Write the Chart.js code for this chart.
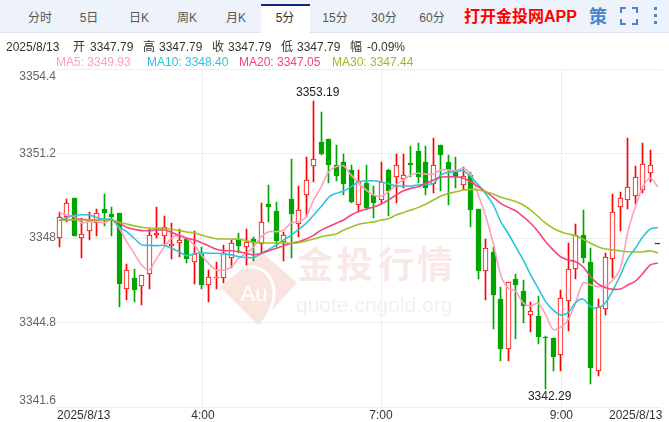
<!DOCTYPE html>
<html>
<head>
<meta charset="utf-8">
<title>K线</title>
<script src="https://cdn.jsdelivr.net/npm/chart.js@4/dist/chart.umd.min.js"></script>
<style>
  html, body { margin: 0; padding: 0; background: #fff; }
  body { width: 669px; height: 422px; position: relative; overflow: hidden;
         font-family: "Liberation Sans", "Noto Sans CJK SC", sans-serif; font-size: 12px; color: #333; }
  canvas { position: absolute; left: 0; top: 0; }
  #bar { position: absolute; left: 0; top: 0; width: 669px; height: 32px; background: #eef3fb; border-bottom: 1px solid #d9e3f1; }
  #active { position: absolute; left: 261px; top: 4px; width: 49px; height: 27px; background: #fff; border-top: 2px solid #0c2a84; border-bottom: 2px solid #fff; }
  .t { position: absolute; white-space: nowrap; line-height: 14px; }
  .tab { top: 11px; transform: translateX(-50%); color: #555; }
</style>
</head>
<body>
<canvas id="grafico" width="669" height="422"></canvas>
<div id="bar"></div>
<div id="active"></div>
<div class="t tab" style="left:40px">分时</div>
<div class="t tab" style="left:89px">5日</div>
<div class="t tab" style="left:139px">日K</div>
<div class="t tab" style="left:187px">周K</div>
<div class="t tab" style="left:236px">月K</div>
<div class="t tab" style="left:285px;color:#333">5分</div>
<div class="t tab" style="left:335px">15分</div>
<div class="t tab" style="left:384px">30分</div>
<div class="t tab" style="left:432px">60分</div>
<div class="t" style="left:464px;top:8px;color:#f00;font-weight:bold;font-size:16px;line-height:18px">打开金投网APP</div>
<div class="t" style="left:589px;top:7px;color:#4a84cc;font-weight:bold;font-size:18px;line-height:20px">策</div>
<svg style="position:absolute;left:620px;top:7px" width="18" height="18" fill="none" stroke="#4a84cc" stroke-width="2">
  <path d="M1 6V1H6M12 1H17V6M17 12V17H12M6 17H1V12"/>
</svg>
<svg style="position:absolute;left:653px;top:7px" width="6" height="18" fill="#4a84cc">
  <rect x="1" y="0" width="3" height="3"/><rect x="1" y="7" width="3" height="3"/><rect x="1" y="14" width="3" height="3"/>
</svg>

<div class="t" style="left:6px;top:40px">2025/8/13</div>
<div class="t" style="left:73px;top:40px">开</div><div class="t" style="left:90px;top:40px">3347.79</div>
<div class="t" style="left:143px;top:40px">高</div><div class="t" style="left:159px;top:40px">3347.79</div>
<div class="t" style="left:212px;top:40px">收</div><div class="t" style="left:228px;top:40px">3347.79</div>
<div class="t" style="left:281px;top:40px">低</div><div class="t" style="left:297px;top:40px">3347.79</div>
<div class="t" style="left:350px;top:40px">幅</div><div class="t" style="left:367px;top:40px">-0.09%</div>
<div class="t" style="left:56px;top:55px;color:#ff9fbb">MA5: 3349.93</div>
<div class="t" style="left:147px;top:55px;color:#2ec4dc">MA10: 3348.40</div>
<div class="t" style="left:239px;top:55px;color:#f2467c">MA20: 3347.05</div>
<div class="t" style="left:332px;top:55px;color:#9cba2a">MA30: 3347.44</div>

<script>
const opens = [3347.99,3348.78,3349.50,3347.99,3348.28,3348.56,3349.09,3348.91,3348.95,3346.06,3346.49,3346.19,3346.63,3348.13,3348.07,3347.70,3347.80,3347.96,3347.08,3347.38,3346.21,3346.49,3346.50,3347.23,3347.96,3347.67,3347.96,3347.76,3349.28,3349.02,3347.86,3349.48,3348.52,3349.62,3350.72,3351.64,3351.74,3350.75,3350.88,3350.58,3349.25,3350.07,3349.61,3349.43,3350.58,3350.30,3350.22,3350.84,3351.30,3350.88,3350.05,3351.52,3350.88,3350.58,3350.00,3350.39,3349.10,3346.76,3347.47,3345.69,3343.81,3346.44,3345.99,3345.07,3345.04,3344.25,3344.21,3343.56,3345.60,3346.82,3348.10,3347.08,3342.95,3345.30,3347.19,3349.16,3349.44,3349.58,3349.82,3350.45,3347.79];
const highs = [3349.00,3349.47,3349.50,3348.77,3348.97,3349.10,3349.67,3349.16,3348.95,3347.02,3346.82,3346.60,3348.33,3349.16,3348.83,3348.56,3348.33,3347.96,3348.27,3347.65,3346.79,3347.10,3347.74,3347.93,3348.20,3348.34,3348.05,3349.31,3350.01,3349.38,3348.24,3350.98,3349.97,3351.08,3353.19,3352.78,3351.74,3351.52,3351.17,3350.77,3350.58,3350.77,3349.98,3350.87,3350.60,3351.18,3351.18,3351.48,3351.59,3351.48,3351.78,3351.52,3351.14,3351.06,3350.68,3350.51,3349.10,3347.95,3347.67,3346.16,3346.35,3346.64,3346.41,3345.57,3345.82,3344.30,3344.21,3346.03,3347.80,3348.53,3349.06,3347.61,3345.68,3347.44,3349.68,3349.73,3351.80,3350.74,3351.59,3351.33,3347.79];
const lows = [3347.65,3348.62,3348.09,3347.23,3347.93,3348.08,3348.46,3348.08,3345.38,3345.65,3345.59,3345.46,3346.07,3347.99,3347.76,3347.19,3347.27,3347.07,3346.26,3346.08,3345.58,3346.08,3346.29,3346.85,3347.44,3346.98,3347.14,3347.42,3348.60,3347.65,3347.14,3347.26,3348.03,3348.81,3350.13,3351.14,3350.07,3350.16,3349.63,3349.31,3349.00,3349.06,3348.77,3349.28,3348.85,3349.34,3349.88,3350.32,3350.07,3349.64,3349.69,3349.79,3349.25,3349.88,3349.82,3348.41,3346.44,3345.65,3344.56,3343.35,3343.35,3344.17,3344.77,3344.45,3343.98,3342.29,3342.98,3342.98,3344.47,3346.44,3347.07,3342.47,3342.78,3345.09,3346.48,3348.28,3349.09,3349.29,3349.69,3350.13,3347.79];
const closes = [3348.78,3349.31,3348.09,3348.14,3348.68,3348.94,3348.94,3348.80,3346.26,3346.78,3346.03,3346.59,3348.10,3348.19,3348.41,3347.76,3347.91,3347.19,3347.38,3346.23,3346.51,3346.51,3347.42,3347.80,3347.71,3347.86,3347.80,3348.60,3349.17,3347.90,3348.10,3348.92,3349.05,3350.19,3350.98,3351.19,3350.78,3350.36,3350.05,3349.38,3350.16,3349.13,3349.33,3350.12,3349.79,3350.75,3350.38,3350.77,3350.32,3349.88,3350.75,3351.14,3350.58,3350.30,3350.34,3349.06,3346.76,3347.61,3345.85,3343.80,3346.35,3346.22,3345.44,3345.23,3344.26,3344.23,3343.51,3345.72,3346.82,3348.13,3347.26,3343.07,3345.38,3347.27,3348.97,3349.50,3349.92,3350.30,3350.79,3350.75,3347.79];

const ma5 = [3348.95,3348.87,3348.81,3348.57,3348.62,3348.62,3348.58,3348.68,3348.38,3347.86,3347.42,3346.98,3346.79,3347.23,3347.65,3347.99,3348.11,3348.00,3347.74,3347.36,3347.02,3346.79,3346.79,3346.91,3347.24,3347.43,3347.67,3348.05,3348.24,3348.24,3348.30,3348.57,3348.62,3348.81,3349.44,3349.94,3350.51,3350.70,3350.73,3350.39,3350.08,3349.82,3349.63,3349.59,3349.75,3350.01,3350.20,3350.39,3350.45,3350.42,3350.42,3350.58,3350.58,3350.55,3350.64,3350.39,3349.63,3348.81,3347.80,3346.60,3346.10,3345.99,3345.54,3345.43,3345.53,3345.09,3344.54,3344.62,3344.90,3345.54,3346.30,3346.22,3346.16,3346.19,3346.41,3346.87,3348.24,3349.19,3349.94,3350.26,3349.93];
const ma10 = [3348.68,3348.78,3348.86,3348.88,3348.87,3348.78,3348.71,3348.71,3348.41,3348.24,3347.99,3347.74,3347.72,3347.71,3347.72,3347.61,3347.48,3347.33,3347.40,3347.44,3347.42,3347.42,3347.40,3347.36,3347.29,3347.26,3347.26,3347.42,3347.57,3347.74,3347.93,3348.11,3348.33,3348.56,3348.87,3349.19,3349.54,3349.69,3349.78,3349.94,3350.13,3350.16,3350.17,3350.13,3350.05,3349.98,3349.97,3349.97,3350.01,3350.03,3350.07,3350.39,3350.49,3350.51,3350.55,3350.32,3350.01,3349.67,3349.25,3348.62,3348.17,3347.67,3347.17,3346.60,3346.10,3345.59,3345.27,3345.09,3345.17,3345.55,3345.69,3345.40,3345.36,3345.55,3346.03,3346.60,3347.23,3347.61,3348.05,3348.34,3348.40];
const ma20 = [3348.68,3348.69,3348.71,3348.71,3348.68,3348.68,3348.68,3348.68,3348.56,3348.41,3348.33,3348.28,3348.28,3348.30,3348.30,3348.22,3348.09,3347.99,3347.93,3347.82,3347.70,3347.57,3347.52,3347.52,3347.48,3347.42,3347.36,3347.42,3347.52,3347.61,3347.71,3347.80,3347.86,3347.96,3348.11,3348.30,3348.43,3348.56,3348.68,3348.87,3349.00,3349.10,3349.17,3349.29,3349.44,3349.63,3349.79,3349.88,3349.94,3350.07,3350.20,3350.30,3350.32,3350.32,3350.26,3350.13,3349.94,3349.75,3349.54,3349.31,3349.16,3349.03,3348.81,3348.56,3348.24,3347.86,3347.55,3347.29,3347.17,3347.10,3346.91,3346.54,3346.26,3346.12,3346.06,3346.07,3346.22,3346.37,3346.66,3346.98,3347.05];
const ma30 = [3348.68,3348.68,3348.69,3348.68,3348.68,3348.68,3348.68,3348.68,3348.60,3348.53,3348.46,3348.41,3348.38,3348.37,3348.37,3348.33,3348.28,3348.23,3348.20,3348.11,3348.03,3347.97,3347.96,3347.96,3347.95,3347.90,3347.84,3347.82,3347.81,3347.81,3347.82,3347.80,3347.82,3347.89,3347.96,3348.05,3348.10,3348.15,3348.30,3348.41,3348.52,3348.57,3348.61,3348.68,3348.73,3348.87,3348.96,3349.06,3349.16,3349.29,3349.44,3349.59,3349.68,3349.75,3349.82,3349.84,3349.82,3349.75,3349.67,3349.54,3349.47,3349.38,3349.25,3349.06,3348.81,3348.56,3348.37,3348.24,3348.15,3348.09,3347.95,3347.80,3347.67,3347.58,3347.55,3347.51,3347.48,3347.47,3347.48,3347.51,3347.44];

const yTicks = [3341.6, 3344.8, 3348, 3351.2, 3354.4];
const xTickIndex = [-0.3, 19.2, 43, 67.1, 80.6];
const xTickLabels = ["2025/8/13", "4:00", "7:00", "9:00", "2025/8/13"];

const categories = opens.map((_, i) => i);
const RED = "#ff0000", GREEN = "#00a600", DOJI = "#222222";
const lineColor = i => closes[i] > opens[i] ? RED : closes[i] < opens[i] ? GREEN : DOJI;

const maDataset = (label, data, color) => ({
  type: "line", label, data, borderColor: color, borderWidth: 1.6,
  pointRadius: 0, tension: 0.3, order: 0
});

const extras = {
  id: "extras",
  beforeDatasetsDraw(chart) {
    // velas sem borrar: encaixa x e y no pixel
    chart.getSortedVisibleDatasetMetas().forEach(meta => {
      if (meta.type !== "bar") return;
      meta.data.forEach(b => {
        b.x = Math.floor(b.x) + 0.5;
        b.y = Math.round(b.y);
        b.base = Math.round(b.base);
      });
    });
    const c = chart.ctx;
    c.save();
    c.fillStyle = "#f9e4e0";
    c.beginPath();
    c.moveTo(220, 287); c.lineTo(262, 252); c.lineTo(297, 283); c.lineTo(258, 325);
    c.closePath(); c.fill();
    c.strokeStyle = "#fff"; c.lineWidth = 3;
    c.beginPath();
    c.moveTo(244, 268);
    c.bezierCurveTo(268, 262, 284, 288, 267, 316);
    c.stroke();
    c.fillStyle = "#fff";
    c.font = "22px 'Liberation Sans'";
    c.textAlign = "center"; c.textBaseline = "middle";
    c.fillText("Au", 254, 295);
    c.fillStyle = "#f9e9e6";
    c.font = "bold 36px 'Noto Sans CJK SC'";
    c.textAlign = "left";
    c.fillText("金", 297, 264); c.fillText("投", 337, 264);
    c.fillText("行", 378, 264); c.fillText("情", 417, 264);
    c.fillStyle = "#f0f0f0";
    c.font = "21px 'Liberation Sans'";
    c.fillText("quote.cngold.org", 296, 306);
    c.restore();
  },
  afterDraw(chart) {
    const c = chart.ctx, y = chart.scales.y, x = chart.scales.x;
    c.save();
    c.font = "12px 'Liberation Sans'";
    c.fillStyle = "#666";
    c.textAlign = "right"; c.textBaseline = "middle";
    yTicks.forEach(v => {
      let p = y.getPixelForValue(v);
      if (v === yTicks[0]) p -= 6;
      else if (v === yTicks[yTicks.length - 1]) p += 8;
      c.fillText(String(v), 56, p);
    });
    c.fillStyle = "#222";
    c.textAlign = "center";
    const hi = highs.indexOf(Math.max(...highs));
    const lo = lows.indexOf(Math.min(...lows));
    c.fillText(highs[hi].toFixed(2), x.getPixelForValue(hi) + 4, y.getPixelForValue(highs[hi]) - 8);
    c.fillText(lows[lo].toFixed(2), x.getPixelForValue(lo) + 4, y.getPixelForValue(lows[lo]) + 8);
    c.restore();
  }
};

new Chart(document.getElementById("grafico"), {
  type: "bar",
  data: {
    labels: categories,
    datasets: [
      maDataset("MA30", ma30, "#a0c028"),
      maDataset("MA20", ma20, "#f2467c"),
      maDataset("MA10", ma10, "#2ec4dc"),
      maDataset("MA5", ma5, "#ff9fbb"),
      {
        label: "corpo",
        data: opens.map((o, i) => [o, closes[i]]),
        backgroundColor: opens.map((_, i) => closes[i] > opens[i] ? "#fff" : lineColor(i)),
        borderColor: opens.map((_, i) => lineColor(i)),
        borderWidth: 1, borderSkipped: false,
        barThickness: 5, minBarLength: 1, grouped: false, order: 1
      },
      {
        label: "pavio",
        data: lows.map((l, i) => [l, highs[i]]),
        backgroundColor: opens.map((_, i) => lineColor(i)),
        barThickness: 1, grouped: false, order: 2
      }
    ]
  },
  options: {
    responsive: false,
    animation: false,
    layout: { padding: { left: 0, right: 7.4, top: 69, bottom: 0 } },
    plugins: { legend: { display: false }, tooltip: { enabled: false } },
    scales: {
      x: {
        offset: true,
        grid: {
          offset: false,
          drawTicks: false,
          color: c => (c.index === 0 || c.index === xTickIndex.length - 1) ? "rgba(0,0,0,0)" : "#eeeeee"
        },
        border: { display: false },
        afterBuildTicks: s => { s.ticks = xTickIndex.map(value => ({ value })); },
        afterFit: s => { s.height = 15; },
        ticks: {
          autoSkip: false, maxRotation: 0, align: "inner", padding: 1,
          color: "#333", font: { family: "Liberation Sans", size: 12 },
          callback: v => xTickLabels[xTickIndex.indexOf(v)]
        }
      },
      y: {
        min: yTicks[0],
        max: yTicks[yTicks.length - 1],
        grid: { drawTicks: false, color: "#eeeeee" },
        border: { display: false },
        afterBuildTicks: s => { s.ticks = yTicks.map(value => ({ value })); },
        afterFit: s => { s.width = 55.6; },
        ticks: { display: false }
      }
    }
  },
  plugins: [extras]
});
</script>
</body>
</html>
